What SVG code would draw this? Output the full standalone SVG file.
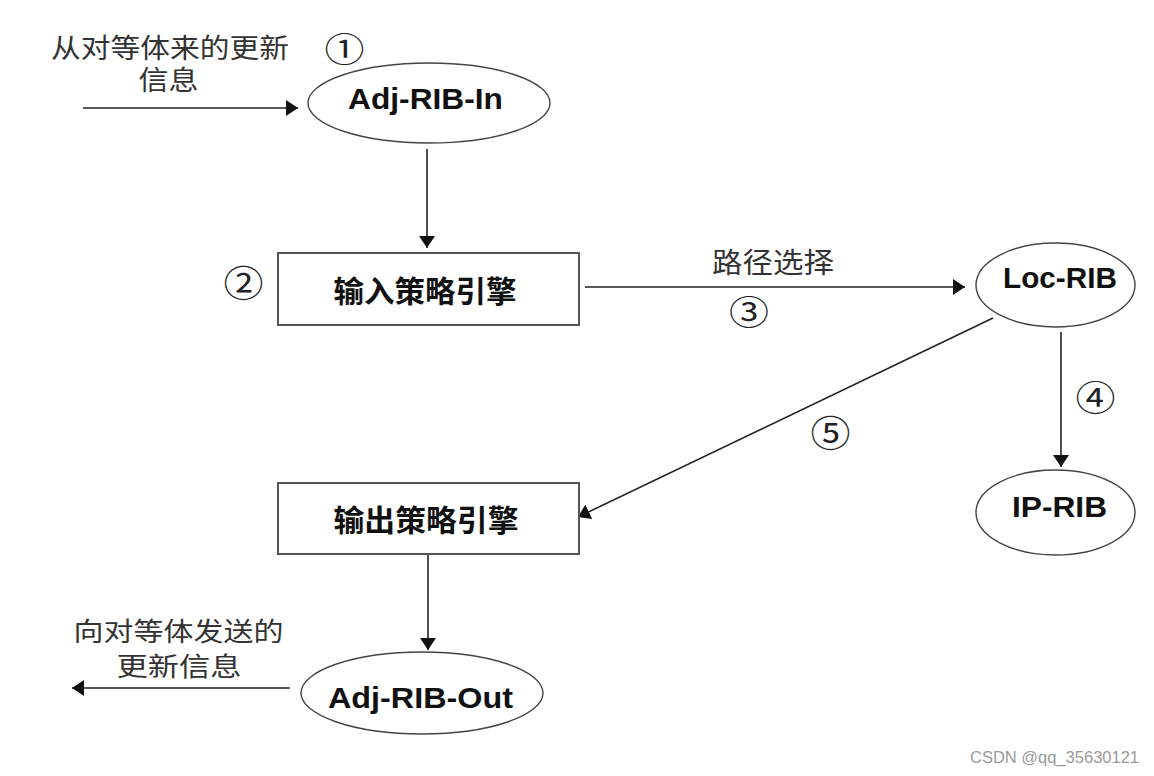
<svg xmlns="http://www.w3.org/2000/svg" width="1154" height="776" viewBox="0 0 1154 776">
<style>
.bg{fill:#ffffff}
.ell{fill:#ffffff;stroke:#444;stroke-width:1.4}
.box{fill:#ffffff;stroke:#555;stroke-width:2}
.lbl{font-family:"Liberation Sans",Arial,sans-serif;font-weight:bold;font-size:30px;fill:#111;text-anchor:middle}
.cjk{font-family:"Noto Sans CJK SC","Microsoft YaHei",sans-serif;font-size:28px;fill:#333;text-anchor:middle}
.cjkm{font-family:"Noto Sans CJK SC","Microsoft YaHei",sans-serif;font-size:27px;fill:#333;text-anchor:middle}
.cjks{font-family:"Noto Sans CJK SC","Microsoft YaHei",sans-serif;font-size:26px;fill:#333;text-anchor:middle}
.cjkb{font-family:"Noto Sans CJK SC","Microsoft YaHei",sans-serif;font-size:30px;font-weight:bold;fill:#111;text-anchor:middle}
.num{font-family:"Noto Sans CJK SC",sans-serif;font-size:40px;fill:#222;text-anchor:middle}
.con{stroke:#222;stroke-width:1.6;fill:none;marker-end:url(#ah)}
.wm{font-family:"Liberation Sans",Arial,sans-serif;font-size:16.5px;fill:#9a9a9a}
</style>
<defs>
<marker id="ah" viewBox="0 0 12 16" refX="12" refY="8" markerWidth="12" markerHeight="16" markerUnits="userSpaceOnUse" orient="auto">
<path d="M0,0 L12,8 L0,16 Z" fill="#111"/>
</marker>
</defs>
<rect class="bg" x="0" y="0" width="1154" height="776"/>

<g id="connectors">
<line class="con" x1="83" y1="108" x2="298" y2="108"/>
<line class="con" x1="427" y1="149" x2="427" y2="248"/>
<line class="con" x1="585" y1="287" x2="965" y2="287"/>
<line class="con" x1="1061" y1="332" x2="1061" y2="467"/>
<line class="con" x1="993" y1="318" x2="578" y2="517"/>
<line class="con" x1="428" y1="554" x2="428" y2="650"/>
<line class="con" x1="290" y1="688" x2="72" y2="688"/>
</g>

<g id="label-in">
<text class="cjkm" x="170" y="58" textLength="238" lengthAdjust="spacingAndGlyphs">从对等体来的更新</text>
<text class="cjkm" x="168.5" y="90" textLength="60" lengthAdjust="spacingAndGlyphs">信息</text>
</g>

<g id="adj-rib-in">
<ellipse class="ell" cx="429" cy="103" rx="121" ry="40"/>
<text class="lbl" x="425.5" y="109" textLength="155" lengthAdjust="spacingAndGlyphs">Adj-RIB-In</text>
</g>

<g id="input-policy">
<rect class="box" x="278" y="253" width="301" height="72"/>
<text class="cjkb" x="425" y="302" textLength="183" lengthAdjust="spacingAndGlyphs">输入策略引擎</text>
</g>

<g id="path-select">
<text class="cjk" x="773" y="273" textLength="122" lengthAdjust="spacingAndGlyphs">路径选择</text>
</g>

<g id="loc-rib">
<ellipse class="ell" cx="1055.5" cy="285" rx="79.5" ry="42"/>
<text class="lbl" x="1060" y="288" textLength="114" lengthAdjust="spacingAndGlyphs">Loc-RIB</text>
</g>

<g id="ip-rib">
<ellipse class="ell" cx="1055.5" cy="512.5" rx="79.5" ry="42.5"/>
<text class="lbl" x="1059.5" y="517" textLength="95" lengthAdjust="spacingAndGlyphs">IP-RIB</text>
</g>

<g id="output-policy">
<rect class="box" x="278" y="483" width="301" height="71"/>
<text class="cjkb" x="426" y="531" textLength="185" lengthAdjust="spacingAndGlyphs">输出策略引擎</text>
</g>

<g id="adj-rib-out">
<ellipse class="ell" cx="422" cy="693" rx="121" ry="41"/>
<text class="lbl" x="420.5" y="708" textLength="185" lengthAdjust="spacingAndGlyphs">Adj-RIB-Out</text>
</g>

<g id="label-out">
<text class="cjks" x="178.5" y="641" textLength="210" lengthAdjust="spacingAndGlyphs">向对等体发送的</text>
<text class="cjks" x="179" y="676" textLength="125" lengthAdjust="spacingAndGlyphs">更新信息</text>
</g>

<g id="steps">
<text class="num" transform="translate(344.5,61.5) scale(1,0.85)">①</text>
<text class="num" transform="translate(243.5,297) scale(1,0.9)">②</text>
<text class="num" transform="translate(749,324.5) scale(1,0.85)">③</text>
<text class="num" transform="translate(1095.5,410.5) scale(1,0.87)">④</text>
<text class="num" transform="translate(830.5,447) scale(1,0.9)">⑤</text>
</g>

<text class="wm" x="970" y="763">CSDN @qq_35630121</text>
</svg>
